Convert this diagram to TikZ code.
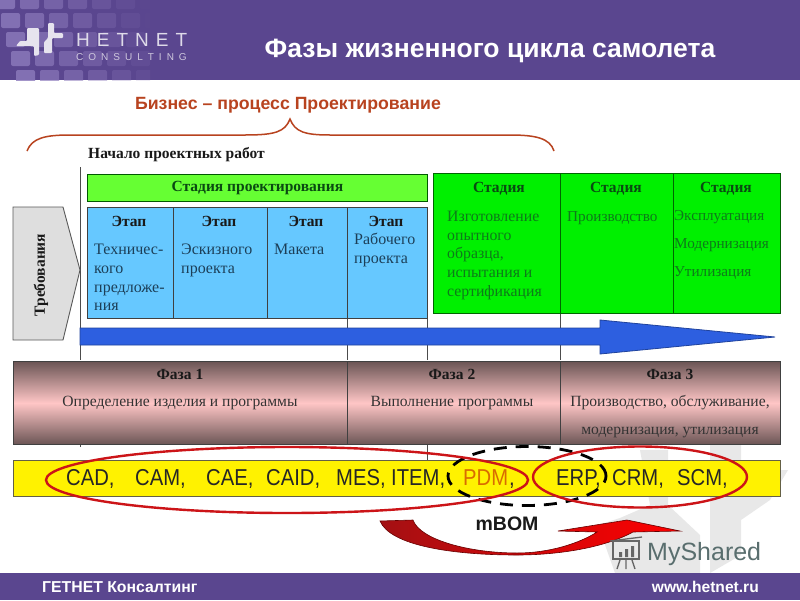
\documentclass[tikz,border=0pt]{standalone}
\usepackage{fontspec}
\setmainfont{Liberation Serif}
\newfontfamily\arl{Liberation Sans}
\newfontfamily\arln[FakeStretch=0.88]{Liberation Sans}
\usetikzlibrary{shapes.geometric,calc}
\definecolor{hdr}{HTML}{5A468F}
\definecolor{hdrl}{HTML}{8D7BBC}
\definecolor{grn}{HTML}{66FF33}
\definecolor{grn2}{HTML}{00F000}
\definecolor{sky}{HTML}{66C8FF}
\definecolor{brn}{HTML}{B8431F}
\definecolor{blu}{HTML}{2D5FE0}
\definecolor{pinkl}{HTML}{FFC6C6}
\definecolor{phasetop}{HTML}{6B5555}
\definecolor{dkr}{HTML}{CC1418}
\definecolor{bluetxt}{HTML}{1C3F58}
\definecolor{grntxt}{HTML}{0E7A1A}
\definecolor{grnhead}{HTML}{0A4A12}
\tikzset{
 x=1pt,y=-1pt,
 stage/.style={draw=black!75,line width=.9pt,fill=sky,minimum height=111pt,anchor=north west,inner sep=0},
 gstage/.style={draw=black!60!green,line width=.9pt,fill=grn2,anchor=north west,minimum height=140pt,inner sep=0},
 txt/.style={font=\fontsize{16}{18.7}\selectfont,text=bluetxt,align=left,anchor=north west,inner sep=0},
 gtxt/.style={font=\fontsize{15.8}{18.7}\selectfont,text=grntxt,align=left,anchor=north west,inner sep=0},
 head/.style={font=\fontsize{15.5}{16}\selectfont\bfseries,text=black!90,inner sep=0},
 ghead/.style={head,text=grnhead},
 phase/.style={draw=black!75,line width=.9pt,top color=phasetop,bottom color=phasetop,middle color=pinkl,anchor=north west,minimum height=83pt,inner sep=0},
 ptxt/.style={font=\fontsize{15.6}{28}\selectfont,inner sep=0,text=black!80,align=center},
 sysbox/.style={font=\arln\fontsize{23}{24}\selectfont,text=black!85,inner sep=0,anchor=west},
 ring/.style={ellipse,draw=dkr,line width=2.4pt,inner sep=0},
 vline/.style={draw=black!70,line width=.9pt},
}
\begin{document}
\begin{tikzpicture}
\useasboundingbox (0,0) rectangle (800,600);
\fill[white] (0,0) rectangle (800,600);
% watermark
\fill[black!9] (640,450) -- (668,450) -- (668,505) -- (700,535) -- (700,573) -- (615,573) -- (598,525) -- (620,518) -- (650,505) -- cycle;
\fill[black!9] (710,445) -- (741,445) -- (741,470) -- (788,470) -- (770,500) -- (741,520) -- (741,555) -- (710,573) -- cycle;
% header
\fill[hdr] (0,0) rectangle (800,80);
\begin{scope}
\clip (0,0) rectangle (150,80);
\foreach \i in {0,...,6}{\foreach \j in {0,...,4}{
 \pgfmathsetmacro{\op}{max(0,.8-\i*.13)}
 \fill[hdrl,opacity=\op,rounded corners=2pt] (\i*24-4+\j*5,\j*19-6) rectangle ++(19,15);}}
\end{scope}
\fill[white!85!hdr,rounded corners=1pt] (27,28) -- (39,28) -- (39,55) -- (34,56) -- (34,46) -- (16,46) -- (20,41) -- (27,41) -- cycle;
\fill[white!85!hdr,rounded corners=1pt] (48,23) -- (54,23) -- (54,33) -- (63,33) -- (63,38) -- (52,38) -- (52,53) -- (44,53) -- (44,42) -- (48,38) -- cycle;
\node[text=white!80!hdr,font=\arl\fontsize{19}{19}\selectfont,inner sep=0,anchor=west] (brand) at (76,40) {H\hspace{7pt}E\hspace{7pt}T\hspace{7pt}N\hspace{7pt}E\hspace{7pt}T};
\node[text=white!70!hdr,font=\arl\fontsize{10}{10}\selectfont,inner sep=0,anchor=west] (brand2) at (76,57) {C\hspace{5pt}O\hspace{5pt}N\hspace{5pt}S\hspace{5pt}U\hspace{5pt}L\hspace{5pt}T\hspace{5pt}I\hspace{5pt}N\hspace{5pt}G};
\node[text=white,font=\arl\bfseries\fontsize{26.5}{28}\selectfont,inner sep=0] (title) at (490,51) {Фазы жизненного цикла самолета};
% footer
\fill[hdr] (0,573) rectangle (800,600);
\node[text=white,font=\arl\bfseries\fontsize{15.8}{16}\selectfont,inner sep=0,anchor=west] (fl) at (42,587) {ГЕТНЕТ Консалтинг};
\node[text=white,font=\arl\bfseries\fontsize{15.6}{16}\selectfont,inner sep=0,anchor=east] (fr) at (759,587) {www.hetnet.ru};
% top
\node[text=brn,font=\arl\bfseries\fontsize{17.7}{18}\selectfont,inner sep=0] (bp) at (288,105) {Бизнес – процесс Проектирование};
\draw[brn,line width=1.5pt] (27,151) .. controls (32,138) and (45,135) .. (70,135) -- (245,135) .. controls (275,135) and (285,132) .. (290,119) .. controls (295,132) and (305,135) .. (330,135) -- (510,135) .. controls (535,135) and (550,138) .. (554,151);
\node[head,anchor=west] (start) at (88,155) {Начало проектных работ};
% vertical lines
\draw[vline] (80,167) -- (80,360);
\draw[vline] (347,318) -- (347,360);
\draw[vline] (427,318) -- (427,360);
\draw[vline] (560,312) -- (560,360);
\draw[vline] (427,444) -- (427,460);
\draw[vline] (80,444) -- (80,447);
% design stage
\node[draw=green!35!black,line width=.9pt,fill=grn,anchor=north west,minimum width=340pt,minimum height=27pt,inner sep=0,head,text=grnhead] (design) at (87,174) {Стадия проектирования};
% stages blue
\node[stage,minimum width=86pt] (e1) at (87,207) {};
\node[stage,minimum width=94pt] (e2) at (173,207) {};
\node[stage,minimum width=80pt] (e3) at (267,207) {};
\node[stage,minimum width=80pt] (e4) at (347,207) {};
\node[head] (h1) at (129,221) {Этап};
\node[head] (h2) at (219,221) {Этап};
\node[head] (h3) at (306,221) {Этап};
\node[head] (h4) at (386,221) {Этап};
\node[txt] (t1) at (94,244) {Техничес-\\кого\\предложе-\\ния};
\node[txt] (t2) at (181,244) {Эскизного\\проекта};
\node[txt] (t3) at (274,244) {Макета};
\node[txt] (t4) at (354,233) {Рабочего\\проекта};
% green stages
\node[gstage,minimum width=127pt] (g1) at (433,173) {};
\node[gstage,minimum width=113pt] (g2) at (560,173) {};
\node[gstage,minimum width=107pt] (g3) at (673,173) {};
\node[ghead] (gh1) at (499,189) {Стадия};
\node[ghead] (gh2) at (616,189) {Стадия};
\node[ghead] (gh3) at (726,189) {Стадия};
\node[gtxt] (gt1) at (447,211) {Изготовление\\опытного\\образца,\\испытания и\\сертификация};
\node[gtxt,font=\fontsize{15.2}{18.7}\selectfont] (gt2) at (567,211) {Производство};
\node[gtxt,font=\fontsize{15.2}{28}\selectfont] (gt3) at (674,210) {Эксплуатация\\Модернизация\\Утилизация};
% requirements
\draw[draw=black!65,line width=.9pt,fill=black!13] (13,207) -- (63,207) -- (80,270) -- (63,340) -- (13,340) -- cycle;
\node[head,rotate=90] (req) at (41,275) {Требования};
% big arrow
\draw[draw=blu!70!black,line width=.8pt,fill=blu] (80,328) -- (600,328) -- (600,320) -- (775,337) -- (600,354) -- (600,345) -- (80,345) -- cycle;
% phases
\node[phase,minimum width=334pt] (p1) at (13,361) {};
\node[phase,minimum width=213pt] (p2) at (347,361) {};
\node[phase,minimum width=220pt] (p3) at (560,361) {};
\node[head] (ph1) at (180,374) {Фаза 1};
\node[head] (ph2) at (452,374) {Фаза 2};
\node[head] (ph3) at (670,374) {Фаза 3};
\node[ptxt] (pt1) at (180,403) {Определение изделия и программы};
\node[ptxt] (pt2) at (452,403) {Выполнение программы};
\node[ptxt] (pt3) at (670,417) {Производство, обслуживание,\\модернизация, утилизация};
% yellow
\node[draw=black!70!yellow,line width=.9pt,fill=yellow,anchor=north west,minimum width=767pt,minimum height=36pt,inner sep=0] (sys) at (13,460) {};
\node[sysbox] at (66,479) {CAD,};
\node[sysbox] at (135,479) {CAM,};
\node[sysbox] at (206,479) {CAE,};
\node[sysbox] at (266,479) {CAID,};
\node[sysbox] at (336,479) {MES,};
\node[sysbox] at (391,479) {ITEM,};
\node[sysbox,text=orange!85!black] at (463,479) {PDM{\color{black!85}\hspace{1pt},}};
\node[sysbox] at (556,479) {ERP,};
\node[sysbox] at (612,479) {CRM,};
\node[sysbox] at (677,479) {SCM,};
% rings
\node[ellipse,draw=black,line width=2.8pt,dash pattern=on 13pt off 9pt,minimum width=158pt,minimum height=59pt,inner sep=0] (r3) at (527,476) {};
\node[ring,minimum width=482pt,minimum height=66pt] (r1) at (287,480) {};
\node[ring,minimum width=214pt,minimum height=61pt] (r2) at (640,477) {};
% curved arrow
\node[font=\arl\bfseries\fontsize{19.5}{20}\selectfont,text=black!90,inner sep=0] (mbom) at (507,524) {mBOM};
\draw[draw=black!60!red,line width=.6pt,left color=dkr!80!black,right color=red] (380,521) -- (413,520) .. controls (420,540) and (470,553) .. (517,553) .. controls (550,553) and (580,543) .. (597,532) -- (558,531) -- (627,520) -- (680,531) -- (633,532) .. controls (600,550) and (550,555) .. (517,555) .. controls (450,555) and (390,545) .. (380,521) -- cycle;
% MyShared
\node[font=\arl\fontsize{25}{26}\selectfont,text=black!45!teal!30!gray,inner sep=0,anchor=west] (ms) at (647,554) {MyShared};
\draw[black!60,line width=1.5pt] (613,541) rectangle (639,559);
\fill[black!60] (619,552) rectangle ++(3,5) (625,549) rectangle ++(3,8) (631,546) rectangle ++(3,11);
\draw[black!60,line width=1.3pt] (620,560) -- (617,569) (626,560) -- (626,569) (632,560) -- (635,569) (610,541) -- (642,537);
\end{tikzpicture}
\end{document}
